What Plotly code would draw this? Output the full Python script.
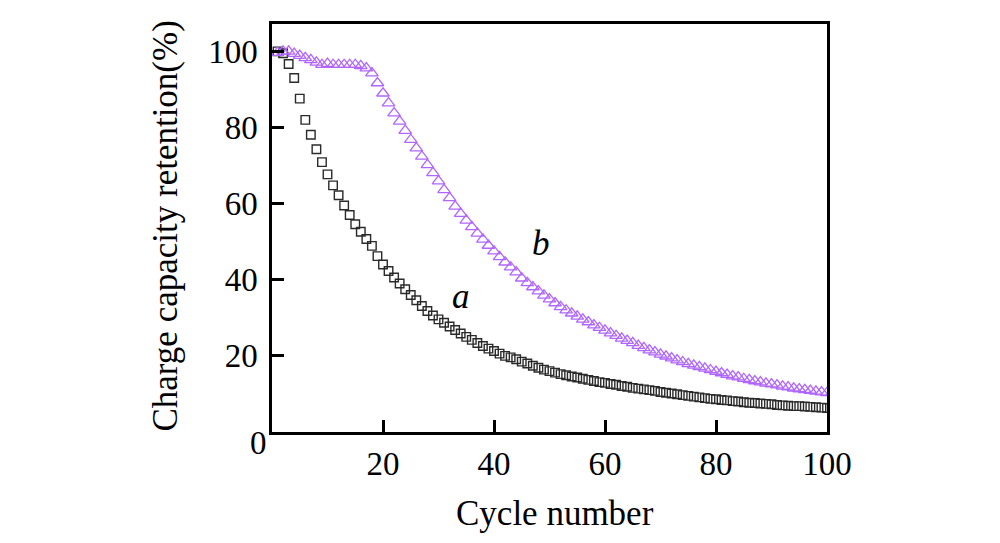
import plotly.graph_objects as go

# cycle index
cycles = list(range(1, 101))

# curve a: open squares
retention_a = [
    100.0, 99.5, 96.7, 93.0, 87.6, 82.0, 78.1, 74.3, 70.9, 67.7,
    64.8, 62.2, 59.5, 57.0, 54.6, 52.6, 50.7, 48.9, 46.2, 44.0,
    42.3, 40.6, 39.0, 37.5, 36.0, 34.6, 33.1, 31.8, 30.6, 29.6,
    28.7, 27.7, 26.8, 25.9, 25.0, 24.2, 23.4, 22.6, 21.9, 21.3,
    20.6, 20.0, 19.6, 19.1, 18.5, 18.0, 17.4, 16.9, 16.4, 16.0,
    15.6, 15.2, 14.9, 14.6, 14.3, 14.0, 13.7, 13.4, 13.1, 12.9,
    12.6, 12.4, 12.1, 11.9, 11.6, 11.4, 11.2, 11.0, 10.8, 10.5,
    10.3, 10.1, 9.9, 9.7, 9.5, 9.3, 9.1, 8.9, 8.7, 8.6,
    8.4, 8.3, 8.1, 8.0, 7.8, 7.7, 7.6, 7.5, 7.4, 7.3,
    7.1, 7.0, 6.9, 6.8, 6.8, 6.7, 6.6, 6.5, 6.4, 6.3,
]

# curve b: open triangles
retention_b = [
    99.7, 100.0, 100.0, 99.4, 98.9, 98.3, 97.8, 97.1, 96.5, 96.8,
    96.5, 96.5, 96.5, 96.5, 96.5, 96.2, 95.6, 94.3, 91.7, 89.0,
    86.4, 83.8, 81.6, 79.2, 76.8, 74.6, 72.4, 70.2, 68.1, 65.9,
    63.6, 61.5, 59.3, 57.4, 55.6, 53.9, 52.2, 50.6, 49.0, 47.5,
    46.0, 44.6, 43.3, 42.0, 40.4, 39.2, 38.1, 37.0, 35.9, 34.9,
    33.9, 32.9, 32.0, 31.2, 30.4, 29.6, 28.9, 28.1, 27.4, 26.7,
    26.0, 25.3, 24.6, 24.0, 23.4, 22.7, 22.1, 21.5, 21.0, 20.4,
    19.9, 19.4, 18.9, 18.4, 17.9, 17.5, 17.1, 16.7, 16.3, 15.9,
    15.5, 15.1, 14.7, 14.4, 14.0, 13.7, 13.4, 13.1, 12.8, 12.6,
    12.3, 12.0, 11.8, 11.5, 11.3, 11.1, 10.9, 10.7, 10.5, 10.3,
]

tick_vals = [20, 40, 60, 80, 100]

serif = "Liberation Serif, Times New Roman, serif"

fig = go.Figure()
fig.add_trace(go.Scatter(
    x=cycles, y=retention_a, mode="markers", name="a",
    marker=dict(symbol="square-open", size=8.5, color="#2a2a2a",
                line=dict(width=1.4)),
))
fig.add_trace(go.Scatter(
    x=cycles, y=retention_b, mode="markers", name="b",
    marker=dict(symbol="triangle-up-open", size=11, color="#b066ff",
                line=dict(width=1.3)),
))

axis_common = dict(
    showline=True, linecolor="black", linewidth=2.5, mirror=True,
    ticks="inside", ticklen=12, tickwidth=2.5, tickcolor="black",
    showgrid=False, zeroline=False,
    tickfont=dict(family=serif, size=33, color="black"),
)
fig.update_xaxes(range=[0, 100], tickvals=tick_vals, ticklabelstandoff=1,
                 **axis_common)
fig.update_yaxes(range=[0, 107.2], tickvals=tick_vals, ticklabelstandoff=5,
                 **axis_common)

text_font = dict(family=serif, size=35, color="black")

fig.update_layout(
    width=1000, height=543,
    margin=dict(l=264, r=181, t=16, b=119),
    plot_bgcolor="white", paper_bgcolor="white",
    showlegend=False,
    annotations=[
        dict(text="0", x=-0.025, y=-0.026, xref="paper", yref="paper",
             xanchor="center", yanchor="middle", showarrow=False,
             font=dict(family=serif, size=33, color="black")),
        dict(text="Charge capacity retention(%)", textangle=-90,
             x=-0.191, y=0.506, xref="paper", yref="paper",
             xanchor="center", yanchor="middle", showarrow=False,
             font=text_font),
        dict(text="Cycle number", x=0.51, y=-0.2, xref="paper",
             yref="paper", xanchor="center", yanchor="middle",
             showarrow=False, font=text_font),
        dict(text="<i>a</i>", x=34.0, y=35.6, showarrow=False,
             font=text_font),
        dict(text="<i>b</i>", x=48.4, y=49.5, showarrow=False,
             font=text_font),
    ],
)

fig.write_html("out.html")
